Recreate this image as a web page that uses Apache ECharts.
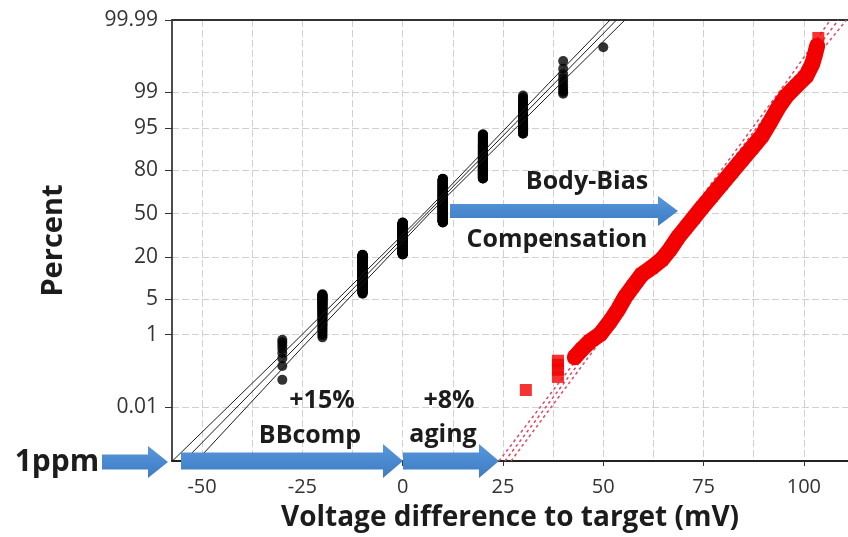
<!DOCTYPE html>
<html>
<head>
<meta charset="utf-8">
<script src="https://cdn.jsdelivr.net/npm/echarts@6/dist/echarts.min.js"></script>
<style>
html,body{margin:0;padding:0;background:#fff;}
#chart{width:848px;height:537px;}
</style>
</head>
<body>
<div id="chart"></div>
<script>
// Normal-probability axis: percent ticks and range
const pctTicks = [0.01, 1, 5, 20, 50, 80, 95, 99, 99.99];
const pctMin = 0.0001;   // 1 ppm
const pctMax = 99.99;

// Voltage axis
const mvMin = -57.5;
const mvMax = 111;
const mvLabelTicks = [-50, -25, 0, 25, 50, 75, 100];
const mvGridTicks = [-50, -37.5, -25, -12.5, 0, 12.5, 25, 37.5, 50, 62.5, 75, 87.5, 100];

// Before compensation: dies per 10 mV measurement bin
const beforeMv = [-30, -20, -10, 0, 10, 20, 30, 40, 50];
const beforeCount = [8, 53, 154, 217, 317, 188, 52, 10, 1];

// After body-bias compensation: voltage difference (mV) and cumulative percent
const afterMv = [30.7, 38.7, 38.7, 38.7, 38.7, 42.9, 44.7, 46.7, 49.2, 51.7, 53.7, 55.4, 57.4, 59.6, 62.1,
  64.6, 66.6, 68.6, 70.6, 72.6, 74.6, 77.1, 79.6, 82.1, 84.6, 87.1, 89.6, 91.6, 93.6, 95.6, 98.1, 100.6,
  102.1, 102.8, 103.3, 103.6];
const afterPct = [0.035, 0.085, 0.135, 0.185, 0.235, 0.29, 0.46, 0.71, 1.02, 1.92, 3.29, 5.4, 8.1, 12.1, 15.0,
  18.9, 24.5, 32.3, 39.4, 46.9, 54.6, 63.5, 71.7, 79.0, 85.0, 89.7, 93.3, 96.1, 97.9, 98.8, 99.29, 99.59,
  99.80, 99.89, 99.936, 99.963];
// the dense run of dies spans these indices
const afterBandStart = 5;
const afterBandEnd = 34;

// Fitted normal lines with confidence bounds
const fitPct = [0.0001, 0.62, 50, 99.38, 99.99];
const beforeFitMv = [-54.5, -25.8, 6.0, 37.8, 53.3];
const beforeLoMv = [-57.4, -27.4, 5.3, 36.4, 51.7];
const beforeHiMv = [-51.4, -24.2, 6.7, 39.4, 55.4];
const afterFitMv = [25.5, 47.6, 72.1, 96.6, 108.6];
const afterLoMv = [24.0, 46.4, 71.4, 95.4, 106.6];
const afterHiMv = [27.0, 48.8, 72.8, 97.8, 110.6];

// Inverse standard normal CDF (Acklam), percent -> z
function zOf(pct) {
  const p = pct / 100;
  const a = [-3.969683028665376e+01, 2.209460984245205e+02, -2.759285104469687e+02, 1.383577518672690e+02, -3.066479806614716e+01, 2.506628277459239e+00];
  const b = [-5.447609879822406e+01, 1.615858368580409e+02, -1.556989798598866e+02, 6.680131188771972e+01, -1.328068155288572e+01];
  const c = [-7.784894002430293e-03, -3.223964580411365e-01, -2.400758277161838e+00, -2.549732539343734e+00, 4.374664141464968e+00, 2.938163982698783e+00];
  const d = [7.784695709041462e-03, 3.224671290700398e-01, 2.445134137142996e+00, 3.754408661907416e+00];
  const pl = 0.02425, ph = 1 - pl;
  let q, r;
  if (p < pl) {
    q = Math.sqrt(-2 * Math.log(p));
    return (((((c[0]*q+c[1])*q+c[2])*q+c[3])*q+c[4])*q+c[5]) / ((((d[0]*q+d[1])*q+d[2])*q+d[3])*q+1);
  }
  if (p <= ph) {
    q = p - 0.5; r = q * q;
    return (((((a[0]*r+a[1])*r+a[2])*r+a[3])*r+a[4])*r+a[5])*q / (((((b[0]*r+b[1])*r+b[2])*r+b[3])*r+b[4])*r+1);
  }
  q = Math.sqrt(-2 * Math.log(1 - p));
  return -(((((c[0]*q+c[1])*q+c[2])*q+c[3])*q+c[4])*q+c[5]) / ((((d[0]*q+d[1])*q+d[2])*q+d[3])*q+1);
}

// Median-rank (Benard) plotting positions for the binned sample
const nBefore = beforeCount.reduce((s, v) => s + v, 0);
const beforePoints = [];
let rank = 0;
beforeMv.forEach((mv, k) => {
  for (let j = 0; j < beforeCount[k]; j++) {
    rank++;
    beforePoints.push([mv, zOf(100 * (rank - 0.3) / (nBefore + 0.4))]);
  }
});
const afterPoints = afterMv.map((mv, i) => [mv, zOf(afterPct[i])]);
const afterBand = afterPoints.slice(afterBandStart, afterBandEnd + 1);
const toLine = (mvs) => mvs.map((mv, i) => [mv, zOf(fitPct[i])]);

const tickZ = pctTicks.map(zOf);
const FONT = '"Open Sans"';
const RED = '#f20000';

const chart = echarts.init(document.getElementById('chart'), null, {renderer: 'canvas'});

const blackLine = (data) => ({
  type: 'line', data, showSymbol: false, silent: true, z: 4,
  lineStyle: {color: '#1a1a1a', width: 1}
});
const redLine = (data) => ({
  type: 'line', data, showSymbol: false, silent: true, z: 2,
  lineStyle: {color: '#dc4a66', width: 1.5, type: [3, 3]}
});

// Block arrow outline: tail x1 -> tip x2 at vertical centre yc
function arrowShape(x1, x2, yc, shaft, head, headLen) {
  return [[x1, yc - shaft / 2], [x2 - headLen, yc - shaft / 2], [x2 - headLen, yc - head / 2], [x2, yc],
          [x2 - headLen, yc + head / 2], [x2 - headLen, yc + shaft / 2], [x1, yc + shaft / 2]];
}
const arrowFill = new echarts.graphic.LinearGradient(0, 0, 0, 1, [
  {offset: 0, color: '#5b97d8'}, {offset: 0.5, color: '#4a89d0'}, {offset: 1, color: '#3f7cc0'}
]);
const arrow = (x1, x2, yc, shaft, head, headLen) => ({
  type: 'polygon', z: 100, silent: true,
  shape: {points: arrowShape(x1, x2, yc, shaft, head, headLen)},
  style: {fill: arrowFill}
});
const label = (text, x, y, size) => ({
  type: 'text', z: 101, silent: true, x, y,
  style: {text, fill: '#1c1c1c', font: `bold ${size}px ${FONT}`, align: 'center', verticalAlign: 'middle'}
});

chart.setOption({
  animation: false,
  backgroundColor: '#ffffff',
  grid: {left: 172, right: 0, top: 20, bottom: 76, containLabel: false, outerBoundsMode: 'none'},
  xAxis: [
    {
      type: 'value', min: mvMin, max: mvMax, position: 'bottom',
      name: 'Voltage difference to target (mV)', nameLocation: 'middle', nameGap: 43,
      nameTextStyle: {fontFamily: FONT, fontWeight: 'bold', fontSize: 28, color: '#1c1c1c'},
      axisLine: {show: true, onZero: false, lineStyle: {color: '#222', width: 2}},
      axisTick: {show: true, inside: false, length: 5, customValues: mvLabelTicks, lineStyle: {color: '#333'}},
      axisLabel: {customValues: mvLabelTicks, fontFamily: FONT, fontSize: 20, color: '#333', margin: 16},
      splitLine: {show: false}
    },
    {
      type: 'value', min: mvMin, max: mvMax, position: 'top',
      axisLine: {show: true, onZero: false, lineStyle: {color: '#333', width: 2}},
      axisTick: {show: false, customValues: mvGridTicks},
      axisLabel: {show: false},
      splitLine: {show: true, lineStyle: {color: '#d0d0d0', width: 1, type: [7, 3]}}
    }
  ],
  yAxis: {
    type: 'value', min: zOf(pctMin), max: zOf(pctMax),
    name: 'Percent', nameLocation: 'middle', nameGap: 104, nameRotate: 90,
    nameTextStyle: {fontFamily: FONT, fontWeight: 'bold', fontSize: 29, color: '#1c1c1c'},
    axisLine: {show: true, onZero: false, lineStyle: {color: '#111', width: 1.5}},
    axisTick: {show: true, length: 7, customValues: tickZ, lineStyle: {color: '#333'}},
    axisLabel: {
      customValues: tickZ, fontFamily: FONT, fontSize: 21, color: '#333', margin: 14,
      formatter: (v) => {
        const i = tickZ.findIndex((z) => Math.abs(z - v) < 1e-6);
        return i >= 0 ? String(pctTicks[i]) : '';
      }
    },
    splitLine: {show: true, lineStyle: {color: '#d0d0d0', width: 1, type: [7, 3]}}
  },
  series: [
    blackLine(toLine(beforeLoMv)),
    blackLine(toLine(beforeFitMv)),
    blackLine(toLine(beforeHiMv)),
    redLine(toLine(afterLoMv)),
    redLine(toLine(afterFitMv)),
    redLine(toLine(afterHiMv)),
    {
      type: 'scatter', data: beforePoints, symbol: 'circle', symbolSize: 10, z: 3, silent: true,
      itemStyle: {color: '#000000'}
    },
    {
      // dense run of dies after compensation, joined so the overlapping squares read as one band
      type: 'line', data: afterBand, showSymbol: false, silent: true, z: 3,
      lineStyle: {color: RED, width: 16, join: 'round', cap: 'round'}
    },
    {
      type: 'scatter', data: afterPoints, symbol: 'rect', symbolSize: 12, z: 3, silent: true,
      itemStyle: {color: RED}
    }
  ],
  graphic: [
    arrow(102, 168, 462, 15, 32, 20),
    arrow(181, 403, 461, 17, 34, 20),
    arrow(403, 499, 461, 17, 34, 20),
    arrow(450, 678, 211, 14, 30, 20),
    label('1ppm', 57, 462, 30),
    label('+15%', 322, 401, 25),
    label('BBcomp', 310, 436, 25),
    label('+8%', 449, 401, 25),
    label('aging', 443, 435, 25),
    label('Body-Bias', 587, 182, 25),
    label('Compensation', 557, 240, 25)
  ]
});
</script>
</body>
</html>
